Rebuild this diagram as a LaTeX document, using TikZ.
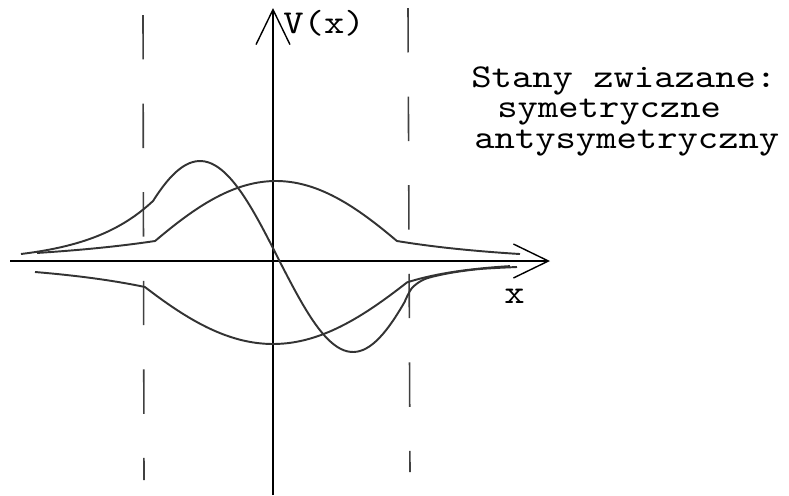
\documentclass[tikz,border=0pt]{standalone}
\usepackage{fontspec}
\newfontfamily\plotfont[FakeStretch=1.16]{lmmono10-regular.otf}
\usetikzlibrary{arrows.meta}

\begin{document}
\begin{tikzpicture}[x=0.02cm, y=-0.02cm,
    font=\plotfont\fontsize{19pt}{23pt}\selectfont,
    axis/.style={line width=0.8pt, -{Straight Barb[length=0.7cm, width=0.68cm]}},
    wall/.style={line width=0.9pt, black!75, dash pattern=on 0.89cm off 0.882cm},
    wave/.style={line width=1.1pt, black!80, line join=round},
    txt/.style={anchor=base west, inner sep=0pt}]
  \useasboundingbox (0,0) rectangle (789,495);
  \coordinate (xstart) at (10,261);
  \coordinate (xend) at (550,261);
  \coordinate (ystart) at (273,495);
  \coordinate (yend) at (273,8);
  \draw[axis] (xstart) -- (xend);
  \draw[axis] (ystart) -- (yend);
  \draw[wall] (143,15) -- (144,480);
  \draw[wall] (408,8) -- (410,472);
  \draw[wave] plot[domain=37:155, samples=30] (\x, {262-21*exp((\x-155)/140)})
    -- plot[domain=155:397, samples=60] (\x, {262-81*cos((\x-276)*0.62)})
    -- plot[domain=397:520, samples=30] (\x, {262-21*exp(-(\x-397)/127)});
  \draw[wave] plot[domain=21:153, samples=30] (\x, {262-61*exp((\x-153)/65)})
    -- plot[domain=153:280, samples=40] (\x, {262-101*sin((280-\x)*1.125)})
    -- plot[domain=280:405, samples=40] (\x, {262+90*sin((\x-280)*1.233)})
    -- plot[smooth] coordinates {(405,301) (412,288) (425,279) (450,273) (480,269) (517,267)};
  \draw[wave] plot[domain=35:145, samples=30] (\x, {262+25*exp((\x-145)/120)})
    -- plot[domain=145:407, samples=60] (\x, {262+82*cos((\x-273)*0.564)})
    -- plot[domain=407:510, samples=30] (\x, {262+20.4*exp(-(\x-407)/64)});
  \node[txt] (vlabel) at (283,33) {V(x)};
  \node[txt] (xlabel) at (504,303) {x};
  \node[txt] (title) at (471,87) {Stany zwiazane:};
  \node[txt] (sym) at (497,117) {symetryczne};
  \node[txt] (antisym) at (474,148) {antysymetryczny};
\end{tikzpicture}
\end{document}
